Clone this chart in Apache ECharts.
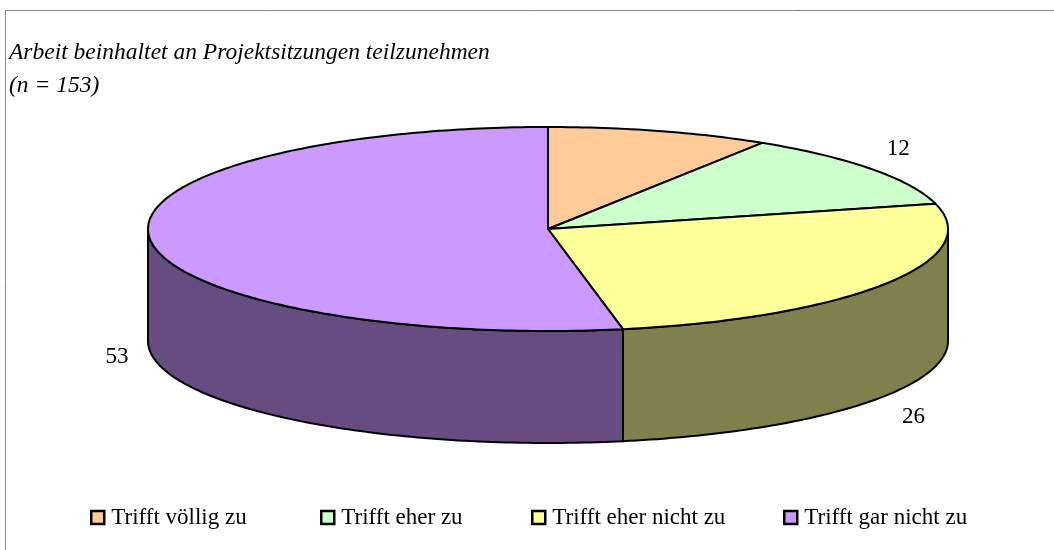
<!DOCTYPE html>
<html lang="de">
<head>
    <meta charset="UTF-8">
    <title>Projektsitzungen</title>
    <script src="https://cdn.jsdelivr.net/npm/echarts@6/dist/echarts.min.js"></script>
    <style>
        html, body {
            margin: 0;
            padding: 0;
            background: #fff;
        }
        #chart {
            width: 1054px;
            height: 550px;
        }
    </style>
</head>
<body>
<div id="chart"></div>
<script>
    // Daten (Prozent)
    var categories = ['Trifft völlig zu', 'Trifft eher zu', 'Trifft eher nicht zu', 'Trifft gar nicht zu'];
    var values = [9, 12, 26, 53];
    var showLabel = [false, true, true, true];
    var topColors = ['#ffcc99', '#ccffcc', '#ffff99', '#cc99ff'];
    var sideColors = ['#80664c', '#668066', '#80804c', '#664c80'];

    // Geometrie der Scheibe
    var cx = 548, cy = 229, rx = 400, ry = 102, depth = 112;
    var total = values.reduce(function (a, b) { return a + b; }, 0);
    var serif = '"Liberation Serif", "Times New Roman", serif';
    var legendLefts = [85, 315, 526, 778];

    function pt(deg, dy) {
        var r = deg * Math.PI / 180;
        return [cx + rx * Math.sin(r), cy - ry * Math.cos(r) + (dy || 0)];
    }

    function arc(a, b, dy) {
        var pts = [];
        var step = a < b ? 1 : -1;
        for (var d = a; step > 0 ? d < b : d > b; d += step) pts.push(pt(d, dy));
        pts.push(pt(b, dy));
        return pts;
    }

    function sliceRender(idx) {
        return function (params, api) {
            var before = 0;
            for (var i = 0; i < idx; i++) before += values[i];
            var a = before / total * 360;
            var b = (before + api.value(0)) / total * 360;
            var children = [];
            // Seitenfläche (nur vorderer Teil sichtbar)
            var s0 = Math.max(a, 90), s1 = Math.min(b, 270);
            if (s1 > s0) {
                var side = arc(s0, s1, 0).concat(arc(s1, s0, depth));
                children.push({
                    type: 'polygon',
                    shape: {points: side},
                    style: {fill: sideColors[idx], stroke: '#000', lineWidth: 2, lineJoin: 'round'}
                });
            }
            var top = [[cx, cy]].concat(arc(a, b, 0));
            children.push({
                type: 'polygon',
                shape: {points: top},
                style: {fill: topColors[idx], stroke: '#000', lineWidth: 2, lineJoin: 'round'}
            });
            if (showLabel[idx]) {
                var m = (a + b) / 2 * Math.PI / 180;
                var lx = cx + (rx + 33) * Math.sin(m);
                var ly = cy - (ry + 35) * Math.cos(m) + (Math.cos(m) < 0 ? depth + 3 : 0);
                children.push({
                    type: 'text',
                    style: {
                        x: lx, y: ly, text: String(api.value(0)),
                        align: 'center', verticalAlign: 'middle',
                        font: '23px ' + serif,
                        fill: '#000'
                    }
                });
            }
            return {type: 'group', children: children};
        };
    }

    var series = categories.map(function (name, i) {
        return {
            name: name,
            type: 'custom',
            coordinateSystem: 'none',
            silent: true,
            animation: false,
            itemStyle: {color: topColors[i]},
            renderItem: sliceRender(i),
            data: [values[i]]
        };
    });

    var legends = categories.map(function (name, i) {
        return {
            data: [name],
            bottom: 16,
            left: legendLefts[i],
            icon: 'rect',
            itemWidth: 13,
            itemHeight: 13,
            selectedMode: false,
            itemStyle: {borderColor: '#000', borderWidth: 2.5},
            textStyle: {
                fontFamily: serif,
                fontSize: 23,
                color: '#000',
                padding: [0, 0, 0, 2]
            }
        };
    });

    var myChart = echarts.init(document.getElementById('chart'));
    myChart.setOption({
        animation: false,
        title: {
            text: 'Arbeit beinhaltet an Projektsitzungen teilzunehmen\n(n = 153)',
            left: 4,
            top: 31,
            textStyle: {
                fontFamily: serif,
                fontStyle: 'italic',
                fontWeight: 'normal',
                fontSize: 23.5,
                lineHeight: 33,
                color: '#000'
            }
        },
        legend: legends,
        graphic: [{
            type: 'rect',
            silent: true,
            shape: {x: 5.5, y: 10.5, width: 1100, height: 600},
            style: {fill: null, stroke: '#888', lineWidth: 1}
        }],
        series: series
    });
</script>
</body>
</html>
